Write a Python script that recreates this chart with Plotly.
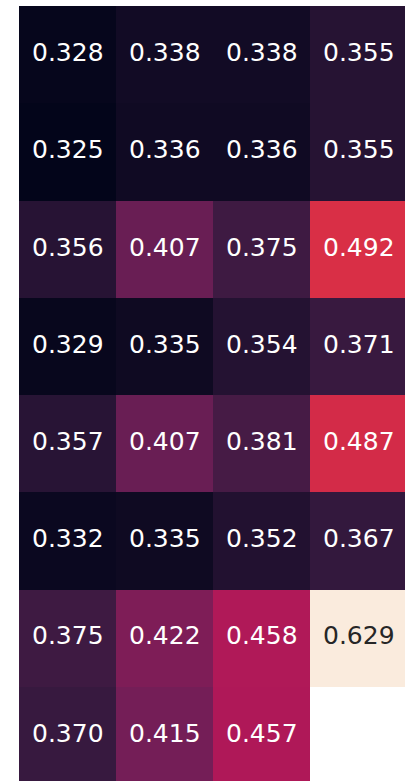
import plotly.graph_objects as go

rows = ["r1", "r2", "r3", "r4", "r5", "r6", "r7", "r8"]
cols = ["c1", "c2", "c3", "c4"]
values = [
    [0.328, 0.338, 0.338, 0.355],
    [0.325, 0.336, 0.336, 0.355],
    [0.356, 0.407, 0.375, 0.492],
    [0.329, 0.335, 0.354, 0.371],
    [0.357, 0.407, 0.381, 0.487],
    [0.332, 0.335, 0.352, 0.367],
    [0.375, 0.422, 0.458, 0.629],
    [0.370, 0.415, 0.457, None],
]

rocket = [
    [0.0, "#03051A"],
    [1/7, "#35193E"],
    [2/7, "#701F57"],
    [3/7, "#AD1759"],
    [4/7, "#E13342"],
    [5/7, "#F37651"],
    [6/7, "#F6B48F"],
    [1.0, "#FAEBDD"],
]

flat = [v for r in values for v in r if v is not None]
zmin, zmax = min(flat), max(flat)

fig = go.Figure(go.Heatmap(
    z=values, x=list(range(len(cols))), y=list(range(len(rows))),
    colorscale=rocket, zmin=zmin, zmax=zmax, showscale=False,
    hoverinfo="skip", xgap=0, ygap=0,
))

annotations = []
for i, r in enumerate(values):
    for j, v in enumerate(r):
        if v is None:
            continue
        frac = (v - zmin) / (zmax - zmin)
        color = "#262626" if frac > 0.8 else "white"
        annotations.append(dict(
            x=j, y=i, text=f"{v:.3f}", showarrow=False,
            font=dict(family="DejaVu Sans", size=25, color=color),
            xref="x", yref="y", yshift=2,
        ))

fig.update_layout(
    width=405, height=781,
    margin=dict(l=19, r=0, t=6, b=0),
    paper_bgcolor="white", plot_bgcolor="white",
    annotations=annotations,
    xaxis=dict(range=[-0.5, 3.479], showticklabels=False, showgrid=False,
               zeroline=False, ticks=""),
    yaxis=dict(range=[7.473, -0.5], showticklabels=False, showgrid=False,
               zeroline=False, ticks=""),
)

fig.write_html(
    "out.html",
    config={"displayModeBar": False, "staticPlot": True},
    post_script="document.body.style.margin='0';document.body.style.overflow='hidden';",
)
